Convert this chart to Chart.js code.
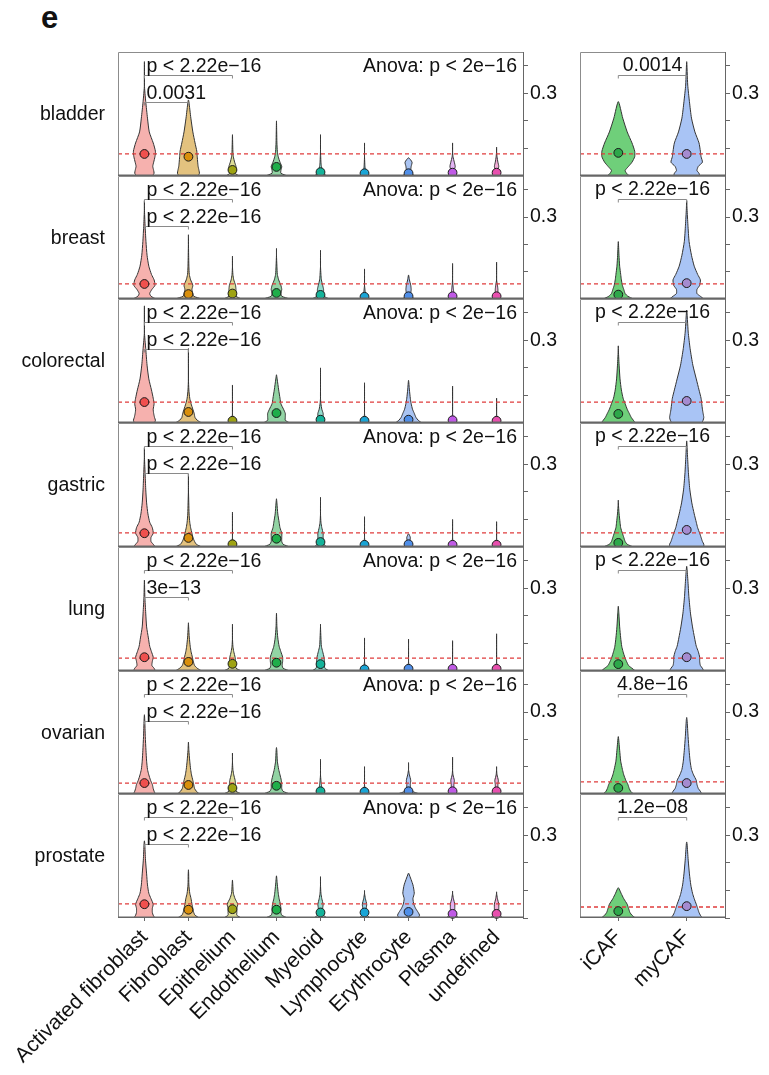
<!DOCTYPE html>
<html>
<head>
<meta charset="utf-8">
<script src="https://cdn.jsdelivr.net/npm/chart.js@4.4.1/dist/chart.umd.min.js"></script>
<style>
  body { margin: 0; background: #fff; width: 769px; height: 1075px; overflow: hidden; position: relative;
         font-family: "Liberation Sans", Arial, Helvetica, sans-serif; }
  canvas { position: absolute; }
  #tag { position: absolute; left: 41px; top: 0px; font-weight: bold; font-size: 31px; color: #111; }
</style>
</head>
<body>
<div id="tag">e</div>
<script>
const LEVELS = [0, 0.01, 0.02, 0.035, 0.05, 0.07, 0.09, 0.12, 0.16, 0.21, 0.27, 0.33];

const tissues = ['bladder', 'breast', 'colorectal', 'gastric', 'lung', 'ovarian', 'prostate'];
const cellTypes = ['Activated fibroblast', 'Fibroblast', 'Epithelium', 'Endothelium', 'Myeloid',
                   'Lymphocyte', 'Erythrocyte', 'Plasma', 'undefined'];
const cafTypes = ['iCAF', 'myCAF'];

// tail maximum of every violin
const cellTop = [
  [0.415, 0.276, 0.15, 0.2, 0.15, 0.12, 0.066, 0.12, 0.105],
  [0.36, 0.235, 0.157, 0.185, 0.178, 0.11, 0.088, 0.13, 0.135],
  [0.425, 0.27, 0.138, 0.175, 0.2, 0.146, 0.155, 0.134, 0.09],
  [0.36, 0.265, 0.127, 0.175, 0.18, 0.11, 0.048, 0.1, 0.092],
  [0.33, 0.175, 0.17, 0.21, 0.17, 0.12, 0.116, 0.11, 0.135],
  [0.29, 0.19, 0.15, 0.17, 0.127, 0.1, 0.115, 0.135, 0.1],
  [0.28, 0.175, 0.138, 0.153, 0.15, 0.1, 0.163, 0.098, 0.095]
];
// dot (centre) of every violin
const cellMedian = [
  [0.08, 0.07, 0.022, 0.033, 0.014, 0.01, 0.01, 0.012, 0.012],
  [0.055, 0.018, 0.02, 0.022, 0.015, 0.008, 0.01, 0.01, 0.01],
  [0.076, 0.04, 0.008, 0.036, 0.012, 0.008, 0.012, 0.01, 0.008],
  [0.05, 0.033, 0.01, 0.03, 0.018, 0.008, 0.01, 0.008, 0.008],
  [0.05, 0.033, 0.026, 0.03, 0.025, 0.006, 0.008, 0.008, 0.008],
  [0.04, 0.033, 0.022, 0.03, 0.01, 0.008, 0.01, 0.01, 0.01],
  [0.05, 0.03, 0.032, 0.03, 0.02, 0.02, 0.022, 0.015, 0.015]
];
// half-widths at LEVELS
const cellWidth = [
  [ // bladder
    [0.18, 0.22, 0.21, 0.19, 0.21, 0.24, 0.25, 0.2, 0.11, 0.07, 0.03],
    [0.22, 0.25, 0.24, 0.22, 0.21, 0.2, 0.19, 0.15, 0.1, 0.055, 0.01],
    [0.15, 0.06, 0.08, 0.08, 0.05, 0.02, 0.01, 0.005],
    [0.25, 0.1, 0.1, 0.12, 0.08, 0.04, 0.02, 0.01, 0.005],
    [0.15, 0.05, 0.04, 0.02, 0.01, 0.005],
    [0.12, 0.04, 0.02, 0.01, 0.005],
    [0.15, 0.06, 0.05, 0.06, 0.08],
    [0.12, 0.05, 0.04, 0.06, 0.04, 0.01],
    [0.1, 0.04, 0.03, 0.05, 0.03, 0.01]
  ],
  [ // breast
    [0.26, 0.15, 0.12, 0.17, 0.24, 0.22, 0.16, 0.1, 0.06, 0.035, 0.015],
    [0.3, 0.12, 0.1, 0.08, 0.1, 0.05, 0.02, 0.01, 0.005],
    [0.2, 0.08, 0.08, 0.08, 0.07, 0.03, 0.01],
    [0.3, 0.12, 0.1, 0.12, 0.1, 0.05, 0.02, 0.01],
    [0.2, 0.08, 0.07, 0.07, 0.05, 0.02, 0.01],
    [0.1, 0.03, 0.02, 0.01],
    [0.15, 0.05, 0.05, 0.06, 0.05, 0.02],
    [0.12, 0.04, 0.03, 0.02, 0.01],
    [0.1, 0.04, 0.03, 0.03, 0.02]
  ],
  [ // colorectal
    [0.23, 0.25, 0.23, 0.21, 0.2, 0.22, 0.2, 0.16, 0.1, 0.06, 0.03],
    [0.3, 0.2, 0.15, 0.13, 0.1, 0.06, 0.03, 0.01],
    [0.12, 0.03, 0.01],
    [0.3, 0.2, 0.2, 0.2, 0.16, 0.1, 0.08, 0.05, 0.015],
    [0.12, 0.06, 0.06, 0.06, 0.03, 0.01],
    [0.1, 0.03, 0.01],
    [0.3, 0.22, 0.17, 0.13, 0.09, 0.06, 0.04, 0.02],
    [0.1, 0.03, 0.01],
    [0.1, 0.03, 0.01]
  ],
  [ // gastric
    [0.25, 0.2, 0.15, 0.15, 0.2, 0.18, 0.12, 0.08, 0.05, 0.03, 0.015],
    [0.3, 0.18, 0.14, 0.1, 0.08, 0.05, 0.03, 0.015, 0.008],
    [0.12, 0.03, 0.01],
    [0.3, 0.15, 0.12, 0.12, 0.12, 0.08, 0.06, 0.03, 0.01],
    [0.15, 0.07, 0.07, 0.06, 0.06, 0.03, 0.01],
    [0.1, 0.03, 0.01],
    [0.1, 0.03, 0.03, 0.04],
    [0.1, 0.03, 0.01],
    [0.1, 0.03, 0.01]
  ],
  [ // lung
    [0.25, 0.22, 0.17, 0.18, 0.2, 0.16, 0.12, 0.09, 0.05, 0.03, 0.01],
    [0.3, 0.2, 0.14, 0.11, 0.09, 0.06, 0.04, 0.02, 0.005],
    [0.2, 0.08, 0.07, 0.07, 0.06, 0.03, 0.01],
    [0.3, 0.15, 0.13, 0.14, 0.14, 0.1, 0.06, 0.03, 0.01],
    [0.2, 0.1, 0.09, 0.09, 0.08, 0.05, 0.02, 0.01],
    [0.08, 0.02, 0.01],
    [0.08, 0.02, 0.01],
    [0.08, 0.02, 0.01],
    [0.08, 0.02, 0.01]
  ],
  [ // ovarian
    [0.25, 0.22, 0.2, 0.18, 0.14, 0.1, 0.07, 0.05, 0.035, 0.02, 0.008],
    [0.25, 0.18, 0.14, 0.12, 0.1, 0.07, 0.05, 0.03, 0.01],
    [0.2, 0.08, 0.07, 0.07, 0.06, 0.03, 0.01],
    [0.3, 0.15, 0.12, 0.12, 0.11, 0.08, 0.05, 0.02, 0.008],
    [0.1, 0.04, 0.03, 0.02, 0.01],
    [0.08, 0.02, 0.01],
    [0.25, 0.08, 0.05, 0.04, 0.05, 0.02],
    [0.12, 0.04, 0.03, 0.03, 0.04, 0.01],
    [0.12, 0.04, 0.03, 0.03, 0.04, 0.01]
  ],
  [ // prostate
    [0.24, 0.2, 0.18, 0.18, 0.2, 0.15, 0.1, 0.07, 0.05, 0.025, 0.008],
    [0.25, 0.15, 0.12, 0.1, 0.08, 0.06, 0.03, 0.01, 0.005],
    [0.2, 0.1, 0.1, 0.1, 0.12, 0.06, 0.02, 0.008],
    [0.25, 0.12, 0.1, 0.1, 0.09, 0.06, 0.04, 0.02],
    [0.15, 0.07, 0.06, 0.05, 0.06, 0.03, 0.01],
    [0.12, 0.06, 0.05, 0.04, 0.05, 0.02],
    [0.22, 0.25, 0.22, 0.16, 0.12, 0.1, 0.13, 0.1, 0.01],
    [0.15, 0.07, 0.05, 0.05, 0.05, 0.02],
    [0.15, 0.07, 0.05, 0.05, 0.05, 0.02]
  ]
];

const cafTop = [[0.27, 0.415], [0.21, 0.36], [0.28, 0.41], [0.17, 0.385], [0.235, 0.38], [0.21, 0.28], [0.11, 0.276]];
const cafMedian = [[0.084, 0.08], [0.016, 0.058], [0.033, 0.08], [0.015, 0.062], [0.025, 0.05], [0.022, 0.04], [0.025, 0.043]];
const cafWidth = [
  [[0.16, 0.12, 0.1, 0.15, 0.2, 0.24, 0.24, 0.2, 0.13, 0.065], [0.19, 0.18, 0.15, 0.17, 0.23, 0.21, 0.2, 0.18, 0.12, 0.07, 0.04, 0.015]],
  [[0.22, 0.14, 0.1, 0.08, 0.06, 0.045, 0.035, 0.02, 0.01, 0.005], [0.25, 0.2, 0.15, 0.15, 0.19, 0.2, 0.16, 0.11, 0.07, 0.035, 0.018, 0.005]],
  [[0.25, 0.22, 0.19, 0.16, 0.13, 0.1, 0.07, 0.045, 0.025, 0.012], [0.22, 0.24, 0.25, 0.24, 0.23, 0.22, 0.21, 0.18, 0.14, 0.09, 0.05, 0.022]],
  [[0.22, 0.13, 0.1, 0.08, 0.06, 0.035, 0.025, 0.012], [0.25, 0.25, 0.23, 0.21, 0.19, 0.16, 0.14, 0.11, 0.075, 0.045, 0.025, 0.012]],
  [[0.25, 0.2, 0.15, 0.12, 0.095, 0.07, 0.05, 0.035, 0.02, 0.008], [0.25, 0.23, 0.2, 0.19, 0.19, 0.17, 0.14, 0.115, 0.085, 0.055, 0.032, 0.017]],
  [[0.22, 0.18, 0.16, 0.14, 0.11, 0.08, 0.06, 0.035, 0.02, 0.005], [0.22, 0.2, 0.17, 0.15, 0.14, 0.1, 0.07, 0.05, 0.035, 0.02, 0.006]],
  [[0.25, 0.2, 0.17, 0.15, 0.13, 0.08, 0.04], [0.23, 0.2, 0.18, 0.16, 0.14, 0.11, 0.085, 0.06, 0.04, 0.022, 0.005]]
];

// red dashed reference line per row
const cellRef = [0.08, 0.055, 0.076, 0.051, 0.047, 0.04, 0.051];
const cafRef = [0.08, 0.055, 0.076, 0.051, 0.047, 0.044, 0.04];

// pairwise test labels
const cellPairs = [[1, 3], [1, 2]];
const cellPairLabels = [
  ['p < 2.22e−16', '0.0031'],
  ['p < 2.22e−16', 'p < 2.22e−16'],
  ['p < 2.22e−16', 'p < 2.22e−16'],
  ['p < 2.22e−16', 'p < 2.22e−16'],
  ['p < 2.22e−16', '3e−13'],
  ['p < 2.22e−16', 'p < 2.22e−16'],
  ['p < 2.22e−16', 'p < 2.22e−16']
];
const anovaLabel = 'Anova: p < 2e−16';
const cafLabels = ['0.0014', 'p < 2.22e−16', 'p < 2.22e−16', 'p < 2.22e−16', 'p < 2.22e−16', '4.8e−16', '1.2e−08'];

const yTicks = [0, 0.1, 0.2, 0.3, 0.4];
const yLabelled = [0.3];

// colours
const cellFill = ['#f6b1ae', '#e3c27f', '#dcdc96', '#92d4a4', '#92dccd', '#90d0e8', '#aac4f2', '#e2b2f2', '#f2acd6'];
const cellDot = ['#f0504e', '#d98f0c', '#9ea313', '#1fae4a', '#15b39a', '#1aa5d6', '#4f8ee8', '#c05ae6', '#e84fae'];
const cafFill = ['#6fcf7a', '#a9c4f5'];
const cafDot = ['#2da84a', '#a58bd0'];

const FONT = '"Liberation Sans", Arial, Helvetica, sans-serif';
const TXT = 19.5;
const ROW_TOP = 52, ROW_H = 123.7, LABEL_H = 157;
const BRACKET_Y = [0.366, 0.268], CAF_BRACKET_Y = 0.365;

function violinPoints(xc, widths, top) {
  const left = [], right = [];
  LEVELS.forEach((lv, j) => {
    if (lv >= top) return;
    const w = widths[j] || 0;
    left.push({ x: xc - w, y: lv });
    right.push({ x: xc + w, y: lv });
  });
  return left.concat([{ x: xc, y: top }], right.reverse());
}

const notesPlugin = {
  id: 'notes',
  afterDraw(chart, args, o) {
    const { ctx, chartArea: a, scales: { x, y } } = chart;
    ctx.save();
    // panel frame
    ctx.strokeStyle = '#8c8c8c';
    ctx.lineWidth = 1;
    ctx.beginPath();
    ctx.moveTo(a.left + 0.5, a.bottom);
    ctx.lineTo(a.left + 0.5, a.top + 0.5);
    ctx.lineTo(a.right, a.top + 0.5);
    ctx.stroke();
    ctx.strokeStyle = '#666';
    ctx.lineWidth = 1.4;
    ctx.beginPath();
    ctx.moveTo(a.left, a.bottom - 0.7);
    ctx.lineTo(a.right, a.bottom - 0.7);
    ctx.stroke();

    ctx.font = TXT + 'px ' + FONT;
    ctx.fillStyle = '#111';
    ctx.strokeStyle = '#8a8a8a';
    ctx.lineWidth = 1;
    const bracket = (x1, x2, yv) => {
      const p1 = x.getPixelForValue(x1), p2 = x.getPixelForValue(x2), py = Math.round(y.getPixelForValue(yv)) + 0.5;
      ctx.beginPath();
      ctx.moveTo(p1, py + 3); ctx.lineTo(p1, py); ctx.lineTo(p2, py); ctx.lineTo(p2, py + 3);
      ctx.stroke();
      return py;
    };
    if (o.panel === 'cell') {
      ctx.textAlign = 'right';
      ctx.textBaseline = 'middle';
      ctx.fillText(tissues[o.row], a.left - 13, (a.top + a.bottom) / 2 + 1);
      ctx.textBaseline = 'alphabetic';
      cellPairs.forEach((pr, k) => {
        const py = bracket(pr[0], pr[1], BRACKET_Y[k]);
        ctx.textAlign = 'left';
        ctx.fillText(cellPairLabels[o.row][k], x.getPixelForValue(pr[0]) + 2, py - 4);
        if (k === 0) {
          ctx.textAlign = 'right';
          ctx.fillText(anovaLabel, a.right - 6, py - 4);
        }
      });
    } else {
      const py = bracket(1, 2, CAF_BRACKET_Y);
      ctx.textAlign = 'center';
      ctx.textBaseline = 'alphabetic';
      ctx.fillText(cafLabels[o.row], x.getPixelForValue(1.5), py - 5);
    }
    ctx.restore();
  }
};

function makeChart(row, panel) {
  const isCell = panel === 'cell';
  const names = isCell ? cellTypes : cafTypes;
  const tops = isCell ? cellTop[row] : cafTop[row];
  const meds = isCell ? cellMedian[row] : cafMedian[row];
  const widths = isCell ? cellWidth[row] : cafWidth[row];
  const fills = isCell ? cellFill : cafFill;
  const dots = isCell ? cellDot : cafDot;
  const ref = isCell ? cellRef[row] : cafRef[row];
  const xMin = isCell ? 0.4 : 0.44, xMax = isCell ? 9.6 : 2.56;
  const padL = isCell ? 118 : 5;
  const plotW = isCell ? 405 : 145;
  const axisW = isCell ? 52 : 44;
  const left = isCell ? 0 : 575;
  const bottomRow = row === tissues.length - 1;

  const top = Math.round(ROW_TOP + row * ROW_H);
  const plotH = Math.round(ROW_TOP + (row + 1) * ROW_H) - top;
  const h = plotH + (bottomRow ? LABEL_H : 0);
  const w = padL + plotW + axisW;

  const cv = document.createElement('canvas');
  cv.width = w; cv.height = h;
  cv.style.left = left + 'px'; cv.style.top = top + 'px';
  cv.style.width = w + 'px'; cv.style.height = h + 'px';
  document.body.appendChild(cv);

  const datasets = [{
    type: 'scatter',
    data: meds.map((m, i) => ({ x: i + 1, y: m })),
    pointBackgroundColor: dots,
    pointBorderColor: '#1a1a1a',
    pointBorderWidth: 1,
    pointRadius: 4.4,
    clip: false,
    order: 0
  }, {
    type: 'line',
    data: [{ x: xMin, y: ref }, { x: xMax, y: ref }],
    borderColor: '#e03c3c',
    borderDash: [4, 3],
    borderWidth: 1.3,
    pointRadius: 0,
    fill: false,
    order: 1
  }];
  names.forEach((n, i) => {
    datasets.push({
      type: 'line',
      label: n,
      data: violinPoints(i + 1, widths[i], tops[i]),
      fill: 'shape',
      backgroundColor: fills[i],
      borderColor: '#333',
      borderWidth: 1,
      pointRadius: 0,
      tension: 0.2,
      order: 2
    });
  });

  new Chart(cv, {
    type: 'scatter',
    data: { datasets },
    options: {
      responsive: false,
      animation: false,
      events: [],
      devicePixelRatio: 1,
      layout: { autoPadding: false, padding: { left: padL, right: 0, top: 0, bottom: 0 } },
      plugins: { legend: { display: false }, tooltip: { enabled: false }, notes: { row, panel } },
      scales: {
        x: {
          type: 'linear', min: xMin, max: xMax, display: bottomRow,
          afterFit: s => {
            s.height = bottomRow ? LABEL_H : 0;
            s.paddingLeft = 0; s.paddingRight = 0; s.paddingTop = 0; s.paddingBottom = 0;
          },
          afterBuildTicks: s => { s.ticks = names.map((_, i) => ({ value: i + 1 })); },
          ticks: {
            autoSkip: false, minRotation: 45, maxRotation: 45, padding: 4,
            font: { family: FONT, size: 21 }, color: '#111',
            callback: v => names[v - 1]
          },
          grid: { drawOnChartArea: false, tickLength: 3, color: '#666' },
          border: { display: false }
        },
        y: {
          type: 'linear', position: 'right', min: 0, max: 0.45,
          afterFit: s => {
            s.width = axisW;
            s.paddingLeft = 0; s.paddingRight = 0; s.paddingTop = 0; s.paddingBottom = 0;
          },
          afterBuildTicks: s => { s.ticks = yTicks.map(v => ({ value: v })); },
          ticks: {
            autoSkip: false, padding: 2, font: { family: FONT, size: TXT }, color: '#111',
            callback: v => yLabelled.some(t => Math.abs(t - v) < 1e-6) ? String(v) : ''
          },
          grid: { drawOnChartArea: false, tickLength: 5, color: '#666' },
          border: { color: '#666' }
        }
      }
    },
    plugins: [notesPlugin]
  });
}

tissues.forEach((t, r) => { makeChart(r, 'cell'); makeChart(r, 'caf'); });
</script>
</body>
</html>
